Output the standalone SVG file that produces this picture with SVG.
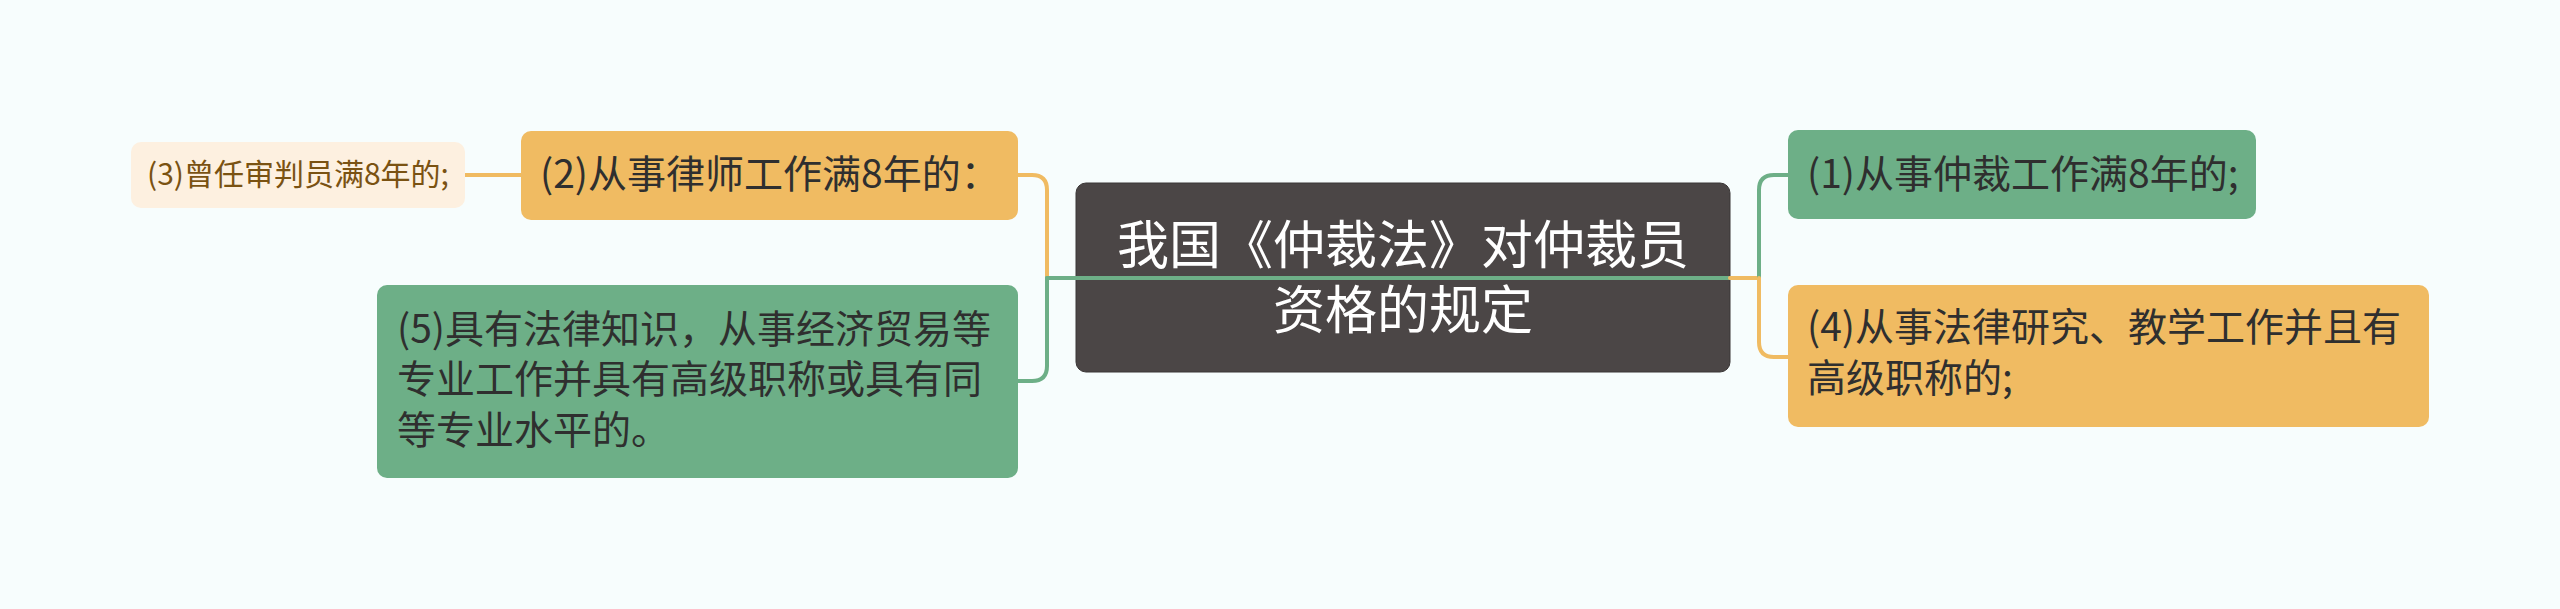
<svg xmlns="http://www.w3.org/2000/svg" width="2560" height="609" viewBox="0 0 2560 609">
<style>
.t{font-family:"Noto Sans CJK SC","Noto Sans",sans-serif;fill:#2f2f2f}
.c{fill:none;stroke-width:4;stroke-linecap:round}
.g{stroke:#6daf87}
.o{stroke:#f0bb62}
</style>
<rect x="0" y="0" width="2560" height="609" fill="#f7fdfd"/>
<g id="root">
<rect x="1076" y="183" width="654" height="189" rx="10" fill="#4b4646" stroke="#3a3636" stroke-width="1"/>
<text class="t" font-size="52" text-anchor="middle" style="fill:#ffffff"><tspan x="1403" y="264">我国《仲裁法》对仲裁员</tspan><tspan x="1403" y="329">资格的规定</tspan></text>
</g>
<g id="connectors">
<path class="c o" d="M1047 278 V190 Q1047 175 1032 175 H1018"/>
<path class="c g" d="M1047 278 V366 Q1047 381 1032 381 H1018"/>
<path class="c g" d="M1047 278 H1730"/>
<path class="c o" d="M1730 278 H1759"/>
<path class="c g" d="M1759 278 V190 Q1759 175 1774 175 H1788"/>
<path class="c o" d="M1759 278 V342 Q1759 357 1774 357 H1788"/>
<path class="c o" d="M465 175 H521"/>
</g>
<g id="n1">
<rect x="1788" y="130" width="468" height="89" rx="10" fill="#6daf87"/>
<text class="t" x="1807" y="188" font-size="39">(1)从事仲裁工作满8年的;</text>
</g>
<g id="n2">
<rect x="521" y="131" width="497" height="89" rx="10" fill="#f0bb62"/>
<text class="t" x="540" y="188" font-size="39">(2)从事律师工作满8年的：</text>
</g>
<g id="n3">
<rect x="131" y="142" width="334" height="66" rx="10" fill="#fdf0e0"/>
<text class="t" x="147" y="185" font-size="30" style="fill:#7a5212">(3)曾任审判员满8年的;</text>
</g>
<g id="n4">
<rect x="1788" y="285" width="641" height="142" rx="10" fill="#f0bb62"/>
<text class="t" font-size="39"><tspan x="1807" y="341">(4)从事法律研究、教学工作并且有</tspan><tspan x="1807" y="392">高级职称的;</tspan></text>
</g>
<g id="n5">
<rect x="377" y="285" width="641" height="193" rx="10" fill="#6daf87"/>
<text class="t" font-size="39"><tspan x="397" y="343">(5)具有法律知识，从事经济贸易等</tspan><tspan x="397" y="393">专业工作并具有高级职称或具有同</tspan><tspan x="397" y="444">等专业水平的。</tspan></text>
</g>
</svg>
